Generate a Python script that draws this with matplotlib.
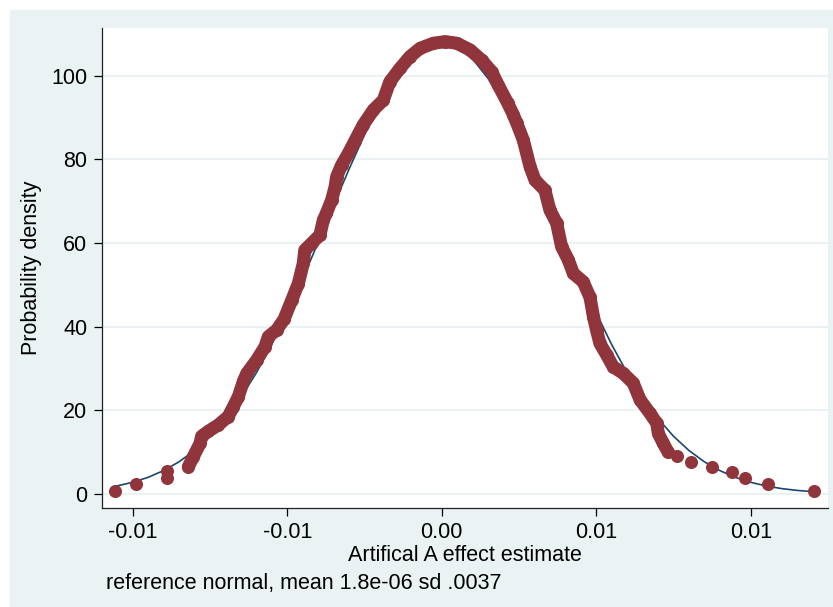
import matplotlib
matplotlib.use("Agg")
import matplotlib.pyplot as plt
from matplotlib.patches import Rectangle

plt.rcParams['font.family'] = ['Liberation Sans', 'DejaVu Sans']

# kernel density estimate, dense central band
kd_x = [-0.00820, -0.00804, -0.00782, -0.00777, -0.00755, -0.00723, -0.00691, -0.00674,
        -0.00658, -0.00642, -0.00631, -0.00599, -0.00572, -0.00561, -0.00534, -0.00510,
        -0.00485, -0.00464, -0.00448, -0.00443, -0.00421, -0.00394, -0.00383, -0.00373,
        -0.00356, -0.00345, -0.00340, -0.00324, -0.00302, -0.00281, -0.00254, -0.00221,
        -0.00189, -0.00168, -0.00135, -0.00103, -0.00070, -0.00027, 0.00011, 0.00049,
        0.00092, 0.00129, 0.00162, 0.00183, 0.00213, 0.00232, 0.00243, 0.00264,
        0.00286, 0.00302, 0.00334, 0.00350, 0.00372, 0.00388, 0.00410, 0.00426,
        0.00458, 0.00480, 0.00491, 0.00501, 0.00512, 0.00534, 0.00555, 0.00588,
        0.00620, 0.00642, 0.00674, 0.00696, 0.00701, 0.00717, 0.00733]
kd_y = [6.5, 8.9, 12.1, 13.8, 15.0, 16.5, 18.5, 20.9,
        23.3, 26.9, 28.8, 32.0, 35.2, 37.6, 39.2, 41.8,
        46.4, 50.3, 55.1, 58.3, 59.9, 61.9, 65.5, 67.1,
        70.3, 73.4, 75.8, 78.6, 81.4, 84.4, 88.2, 91.8,
        94.1, 98.5, 101.7, 104.5, 106.5, 107.7, 108.1, 107.7,
        106.1, 103.7, 100.9, 97.7, 93.5, 90.6, 88.6, 84.6,
        78.2, 75.0, 72.6, 67.9, 64.7, 59.1, 55.9, 52.7,
        50.7, 47.0, 42.4, 39.2, 36.0, 33.2, 30.4, 28.8,
        26.5, 22.5, 19.3, 16.9, 14.5, 12.1, 10.0]

# isolated tail points of the density estimate
tail_x = [-0.01057, -0.00990, -0.00890, -0.00890,
          0.00761, 0.00807, 0.00876, 0.00940, 0.00983, 0.01057, 0.01206]
tail_y = [0.8, 2.5, 5.4, 3.8,
          9.2, 7.7, 6.5, 5.2, 3.75, 2.4, 0.8]

# reference normal curve (mean 1.8e-06, sd .0037)
norm_x = [-0.0106, -0.0100, -0.0095, -0.0090, -0.0085, -0.0080, -0.0075, -0.0070,
          -0.0065, -0.0060, -0.0055, -0.0050, -0.0045, -0.0040, -0.0035, -0.0030,
          -0.0025, -0.0020, -0.0015, -0.0010, -0.0005, 0.0, 0.0005, 0.0010,
          0.0015, 0.0020, 0.0025, 0.0030, 0.0035, 0.0040, 0.0045, 0.0050,
          0.0055, 0.0060, 0.0065, 0.0070, 0.0075, 0.0080, 0.0085, 0.0090,
          0.0095, 0.0100, 0.0105, 0.0110, 0.0115, 0.0121]
norm_y = [1.78, 2.80, 3.99, 5.60, 7.70, 10.41, 13.82, 18.01,
          23.04, 28.95, 35.72, 43.27, 51.46, 60.10, 68.93, 77.62,
          85.82, 93.17, 99.31, 103.95, 106.84, 107.82, 106.84, 103.95,
          99.31, 93.17, 85.82, 77.62, 68.93, 60.10, 51.46, 43.27,
          35.72, 28.95, 23.04, 18.01, 13.82, 10.41, 7.70, 5.60,
          3.99, 2.80, 1.92, 1.30, 0.86, 0.51]

x_ticks = [-0.01, -0.005, 0.0, 0.005, 0.01]
x_ticklabels = ["-0.01", "-0.01", "0.00", "0.01", "0.01"]
y_ticks = [0, 20, 40, 60, 80, 100]

MAROON = "#90353B"
NAVY = "#1A476F"
BG = "#EAF2F3"

fig = plt.figure(figsize=(8.33, 6.07), dpi=100, facecolor="white")
fig.patches.append(Rectangle((10 / 833, 0), 1 - 10 / 833, 1 - 10 / 607,
                             transform=fig.transFigure, color=BG, zorder=-10))
ax = fig.add_axes([102 / 833, 1 - 507.7 / 607, (828 - 102) / 833, (507.7 - 28) / 607])
ax.set_facecolor("white")

for y in y_ticks:
    ax.axhline(y, color=BG, lw=1.5, zorder=1)

ax.plot(norm_x, norm_y, color=NAVY, lw=1.2, zorder=2)
ax.plot(kd_x, kd_y, color=MAROON, lw=9.4, solid_capstyle="round",
        solid_joinstyle="round", zorder=3)
ax.plot(kd_x, kd_y, "o", color=MAROON, ms=9.4, mew=0, zorder=3)
ax.plot(tail_x, tail_y, "o", color=MAROON, ms=9.4, mew=0, zorder=3)

ax.set_xlim(-0.010994, 0.012502)
ax.set_ylim(-3.27, 111.35)
ax.set_xticks(x_ticks)
ax.set_xticklabels(x_ticklabels)
ax.set_yticks(y_ticks)
ax.tick_params(labelsize=15.5, length=6, width=0.9, direction="out", pad=4.5)

for s in ["top", "right"]:
    ax.spines[s].set_visible(False)
for s in ["left", "bottom"]:
    ax.spines[s].set_linewidth(0.9)
    ax.spines[s].set_color("#222222")

ax.set_ylabel("Probability density", fontsize=15.5, labelpad=7)
ax.set_xlabel("Artifical A effect estimate", fontsize=15.5, labelpad=1)
fig.text(106 / 833, 1 - 584 / 607, "reference normal, mean 1.8e-06 sd .0037",
         fontsize=15.5, ha="left", va="center")

fig.savefig("out.png", dpi=100, facecolor=fig.get_facecolor())
